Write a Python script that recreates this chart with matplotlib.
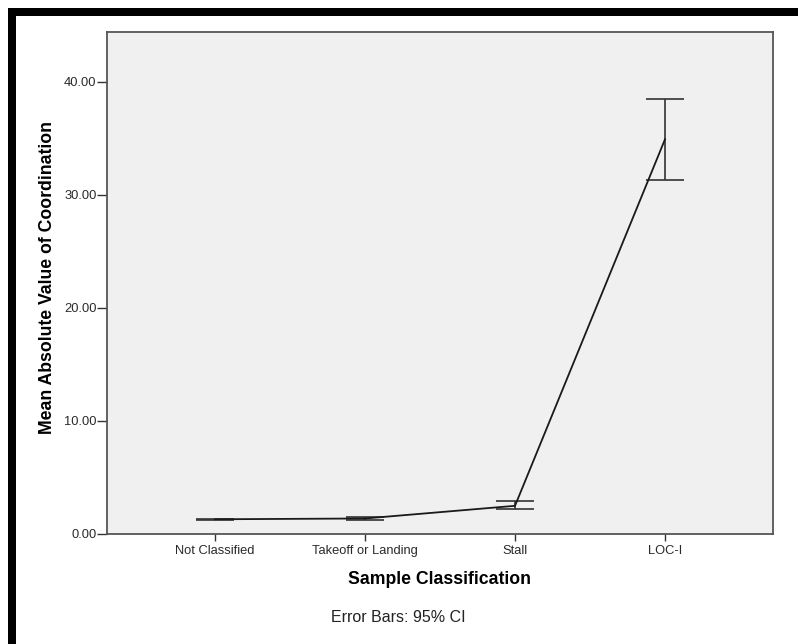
import numpy as np
import matplotlib
matplotlib.use("Agg")
import matplotlib.pyplot as plt
from matplotlib.patches import Rectangle

categories = ["Not Classified", "Takeoff or Landing", "Stall", "LOC-I"]
means = [1.26, 1.33, 2.45, 34.9]
ci_low = [1.21, 1.22, 2.14, 31.3]
ci_high = [1.31, 1.44, 2.88, 38.5]

W, H = 798, 644
fig = plt.figure(figsize=(W / 100, H / 100), dpi=100)
plt.rcParams["font.family"] = ["Liberation Sans", "DejaVu Sans"]

# black frame along top and left edges
fig.patches.append(Rectangle((8 / W, 0), 8 / W, 1 - 8 / H, transform=fig.transFigure,
                             facecolor="black", edgecolor="none"))
fig.patches.append(Rectangle((8 / W, 1 - 16 / H), 1 - 8 / W, 8 / H, transform=fig.transFigure,
                             facecolor="black", edgecolor="none"))

left, right, top, bottom = 107, 773, 32, 533.5
ax = fig.add_axes([left / W, 1 - bottom / H, (right - left) / W, (bottom - top) / H])
ax.set_facecolor("#f0f0f0")

x = np.arange(len(categories))
ax.plot(x, means, color="#1a1a1a", lw=1.3, zorder=3)
yerr = [np.array(means) - np.array(ci_low), np.array(ci_high) - np.array(means)]
ax.errorbar(x, means, yerr=yerr, fmt="none", ecolor="#333333", elinewidth=1.2,
            capsize=13.5, capthick=1.2, zorder=2)

ax.set_xlim(-0.72, 3.72)
ax.set_ylim(0, 44.4)
ax.set_yticks([0, 10, 20, 30, 40])
ax.set_yticklabels([f"{v:.2f}" for v in [0, 10, 20, 30, 40]])
ax.set_xticks(x)
ax.set_xticklabels(categories)
ax.tick_params(axis="both", labelsize=9.3, colors="#333333", width=1,
               labelcolor="#2a2a2a")
ax.tick_params(axis="x", length=5, pad=3)
ax.tick_params(axis="y", length=7, pad=0.5)
for s in ax.spines.values():
    s.set_color("#555555")
    s.set_linewidth(1.3)

ax.set_ylabel("Mean Absolute Value of Coordination", fontsize=12.7, fontweight="bold")
ax.yaxis.set_label_coords((48 - left) / (right - left), (bottom - 277) / (bottom - top))
ax.set_xlabel("Sample Classification", fontsize=12.7, fontweight="bold")
ax.xaxis.set_label_coords((440 - left) / (right - left), -(580 - bottom) / (bottom - top))
ax.xaxis.label.set_va("center")
ax.yaxis.label.set_va("center")
fig.text(398 / W, 1 - 617 / H, "Error Bars: 95% CI", ha="center", va="center",
         fontsize=11.5, color="#222222")

fig.savefig("out.png", dpi=100, facecolor="white")
